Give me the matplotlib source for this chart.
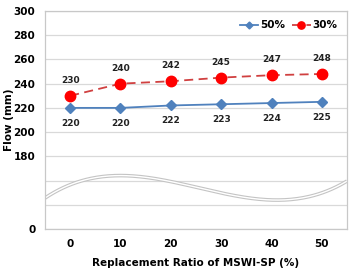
import matplotlib.pyplot as plt
import numpy as np

ratios = ["0", "10", "20", "30", "40", "50"]
flow_50 = [220, 220, 222, 223, 224, 225]
flow_30 = [230, 240, 242, 245, 247, 248]
y_ticks = [120, 140, 160, 180, 200, 220, 240, 260, 280, 300]
y_tick_labels = ["0", "", "", "180", "200", "220", "240", "260", "280", "300"]

plt.rcParams["font.family"] = ["DejaVu Sans"]
plt.rcParams["font.weight"] = "bold"

fig = plt.figure(figsize=(3.5, 2.76), dpi=100)
ax = fig.add_axes([45 / 350, 1 - 229 / 276, 302 / 350, 218 / 276])

x = np.arange(len(ratios))
blue = "#4f81bd"
red = "#ff0000"

ax.plot(x, flow_50, color=blue, lw=1.3, marker="D", ms=5, label="50%", zorder=3)
ax.plot(x, flow_30, color="#d04040", lw=1.3, ls=(0, (5, 3)), marker="o", ms=7.5,
        mfc=red, mec=red, label="30%", zorder=3)

for xi, v in zip(x, flow_50):
    ax.annotate(str(v), (xi, v), xytext=(0, -11), textcoords="offset points",
                ha="center", va="center", fontsize=6.5, fontweight="bold", color="#222222")
for xi, v in zip(x, flow_30):
    ax.annotate(str(v), (xi, v), xytext=(0, 11), textcoords="offset points",
                ha="center", va="center", fontsize=6.5, fontweight="bold", color="#222222")

# axis-break wave (decoration), drawn in axes fraction
wx = np.array([0.0, 0.21, 0.70, 1.0])
wy = np.array([0.142, 0.243, 0.138, 0.22])
coef = np.polyfit(wx, wy, 3)
xs = np.linspace(0, 1, 200)
ys = np.polyval(coef, xs)
ax.plot(xs, ys, transform=ax.transAxes, color="#c4c4c4", lw=2.6, zorder=2, solid_capstyle="butt")
ax.plot(xs, ys, transform=ax.transAxes, color="white", lw=1.0, zorder=2, solid_capstyle="butt")

ax.set_xlim(-0.5, len(ratios) - 0.5)
ax.set_ylim(120, 300)
ax.set_xticks(x)
ax.set_xticklabels(ratios)
ax.set_yticks(y_ticks)
ax.set_yticklabels(y_tick_labels)
ax.tick_params(length=0, labelsize=7.5, pad=7)
for lab in ax.get_xticklabels() + ax.get_yticklabels():
    lab.set_fontweight("bold")
ax.grid(axis="y", color="#d9d9d9", lw=0.9)
ax.set_axisbelow(True)
for s in ax.spines.values():
    s.set_color("#c8c8c8")
    s.set_linewidth(0.9)

ax.set_xlabel("Replacement Ratio of MSWI-SP (%)", fontsize=7.5, fontweight="bold", labelpad=7)
ax.set_ylabel("Flow (mm)", fontsize=7.5, fontweight="bold")
ax.yaxis.set_label_coords(-0.103, 0.5)

ax.legend(loc="upper right", ncol=2, frameon=False, handlelength=1.8,
          handletextpad=0.2, columnspacing=0.6, borderaxespad=0.5, markerscale=0.7,
          prop={"weight": "bold", "size": 7.5})

fig.savefig("out.png", dpi=100)
